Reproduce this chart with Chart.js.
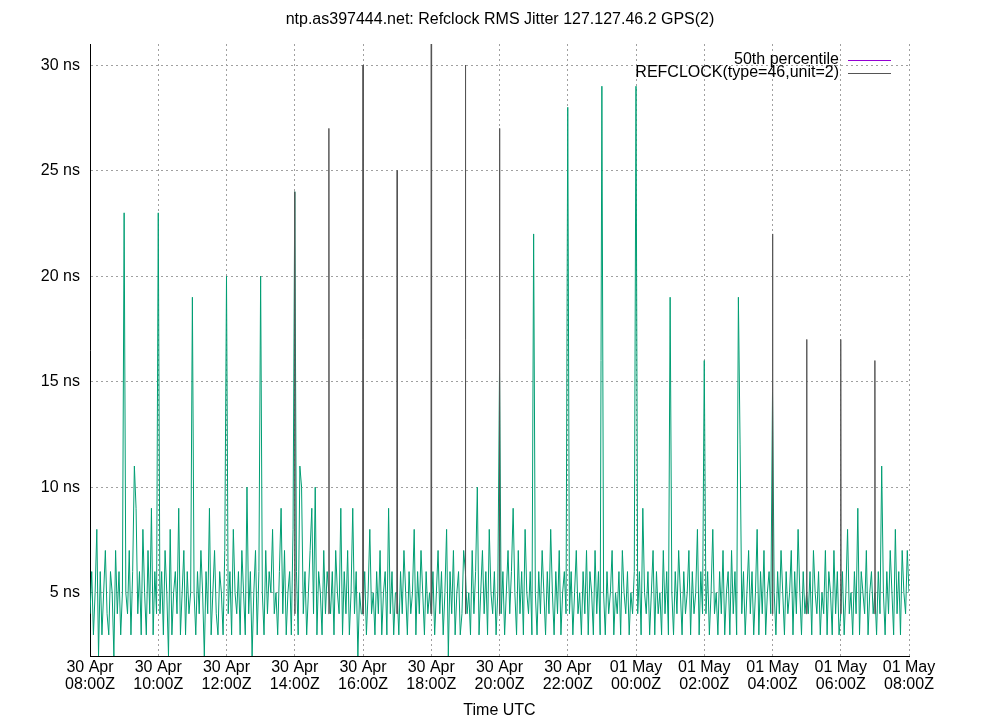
<!DOCTYPE html>
<html><head><meta charset="utf-8">
<script src="https://cdn.jsdelivr.net/npm/chart.js@4"></script>
<style>html,body{margin:0;padding:0;background:#fff}#c{display:block}</style>
</head><body>
<div style="width:1000px;height:720px"><canvas id="c" width="1000" height="720"></canvas></div>
<script>
const TITLE = "ntp.as397444.net: Refclock RMS Jitter 127.127.46.2 GPS(2)";
const X_TITLE = "Time UTC";
const TICK_LABELS = [["30 Apr","08:00Z"],["30 Apr","10:00Z"],["30 Apr","12:00Z"],["30 Apr","14:00Z"],["30 Apr","16:00Z"],["30 Apr","18:00Z"],["30 Apr","20:00Z"],["30 Apr","22:00Z"],["01 May","00:00Z"],["01 May","02:00Z"],["01 May","04:00Z"],["01 May","06:00Z"],["01 May","08:00Z"]];
const SERIES_NAMES = ["50th percentile","REFCLOCK(type=46,unit=2)"];
const START_HOUR = 0, STEP_HOURS = 0.05;
// green jitter samples (ns), one every 3 minutes from 30 Apr 08:00Z
const jitter = [
4,6,3,5,8,2,6,3,5,7,4,3,6,5,2,7,4,6,3,5,
23,5,4,7,3,6,11,9,4,6,3,8,5,3,7,4,9,3,6,4,
23,4,6,3,7,5,2,8,3,5,6,4,9,3,5,7,3,6,4,5,
19,5,3,6,4,7,5,2,6,4,9,3,5,7,4,3,6,5,3,7,
20,4,6,3,8,5,4,6,3,7,5,3,10,4,6,2,5,7,3,6,
20,5,3,7,4,6,5,8,4,5,3,6,9,4,7,3,5,6,3,8,
24,6,3,11,10,4,6,3,5,7,9,4,10,3,6,5,3,7,4,6,
5,4,6,3,7,5,4,9,3,6,4,7,3,5,9,4,6,2,5,4,
4,6,3,5,8,4,5,3,6,4,7,3,5,6,3,9,4,6,3,5,
5,3,6,4,7,5,3,6,4,5,8,3,6,4,7,5,3,6,4,5,
4,6,3,5,7,4,6,3,5,8,2,6,4,7,3,5,6,3,4,7,
6,4,5,3,7,4,6,10,3,5,7,4,6,3,8,5,4,6,3,5,
15.5,4,6,3,5,7,4,6,9,5,3,7,4,6,3,8,5,4,6,3,
22,5,3,6,4,7,5,3,6,4,8,5,3,6,4,7,3,5,6,4,
28,4,6,3,5,7,4,5,3,6,4,7,3,6,5,3,7,4,6,3,
29,5,3,6,4,5,7,3,5,4,6,3,7,5,4,6,3,5,4,6,
29,4,6,3,9,5,4,6,3,5,7,3,6,4,5,3,7,4,6,3,
19,5,3,6,4,7,5,3,6,4,5,7,3,6,4,5,8,3,6,4,
16,4,6,3,5,8,4,5,3,6,4,7,3,5,6,3,7,4,6,3,
19,12,4,6,3,5,7,4,6,3,5,8,3,6,4,7,3,5,6,4,
14.5,5,3,6,4,7,5,3,6,4,5,7,3,6,4,8,5,3,6,4,
5,4,6,3,7,5,4,6,3,5,4,7,3,6,5,3,7,4,6,3,
4,6,3,5,8,4,5,3,6,4,9,3,6,5,4,7,3,5,6,4,
5,3,6,4,11,5,3,6,4,7,5,3,8,4,6,3,7,5,4,7,
5];
// gray REFCLOCK spikes: hours since start, value (ns)
const spikeHours = [6.0, 7.0, 8.0, 9.0, 10.0, 11.0, 12.0, 20.0, 21.0, 22.0, 23.0];
const spikeValues = [24, 27, 30, 25, 31, 30, 27, 22, 17, 17, 16];
const spikeBase = 4;
const median = [];

const greenPts = jitter.map((v,i)=>({x:START_HOUR+i*STEP_HOURS,y:v}));
const grayPts = [];
spikeHours.forEach((h,i)=>{grayPts.push({x:h-0.01,y:spikeBase},{x:h,y:spikeValues[i]},{x:h+0.01,y:spikeBase},{x:h+0.02,y:null});});

const F='"Liberation Sans", Arial';
const legendPlugin = {id:'lg', afterDraw(ch){
  const c=ch.ctx; c.save(); c.font='16px '+F; c.textAlign='right'; c.textBaseline='middle'; c.fillStyle='#000';
  const cols=['#9400d3','#555555'];
  SERIES_NAMES.forEach((n,i)=>{const y=60+i*13; c.fillText(n,839,y); c.strokeStyle=cols[i]; c.lineWidth=1; c.beginPath(); c.moveTo(848,y+0.5); c.lineTo(891,y+0.5); c.stroke();});
  c.textAlign='center'; c.fillText(TITLE,500,20);
  c.restore();
}};

new Chart(document.getElementById('c'),{
  type:'line',
  data:{datasets:[
    {label:SERIES_NAMES[0],data:median,borderColor:'#9400d3',borderWidth:1,pointRadius:0},
    {label:'jitter',data:greenPts,borderColor:'#009e73',borderWidth:1,pointRadius:0,tension:0,order:2},
    {label:SERIES_NAMES[1],data:grayPts,borderColor:'#555555',borderWidth:1,pointRadius:0,tension:0,spanGaps:false,order:1}
  ]},
  plugins:[legendPlugin],
  options:{responsive:false,animation:false,
    layout:{padding:{top:44,right:91,left:0,bottom:0}},
    plugins:{legend:{display:false},title:{display:false},tooltip:{enabled:false}},
    scales:{
      x:{type:'linear',min:0,max:24,
        afterFit(s){s.height=64;},
        afterBuildTicks(s){s.ticks=TICK_LABELS.map((_,i)=>({value:i*2}));},
        ticks:{autoSkip:false,maxRotation:0,color:'#000',font:{family:F,size:16,lineHeight:1.05},padding:3,callback:(v)=>TICK_LABELS[Math.round(v/2)]},
        grid:{color:'#a0a0a0',drawTicks:false},
        border:{color:'#000',dash:[2,3]},
        title:{display:true,text:X_TITLE,color:'#000',font:{family:F,size:16},padding:{top:0,bottom:0}}
      },
      y:{min:2,max:31,
        afterFit(s){s.width=90;},
        afterBuildTicks(s){s.ticks=[5,10,15,20,25,30].map(v=>({value:v}));},
        ticks:{color:'#000',font:{family:F,size:16},padding:10,callback:v=>v+' ns'},
        grid:{color:'#a0a0a0',drawTicks:false},
        border:{color:'#000',dash:[2,3]}
      }
    }
  }
});
</script>
</body></html>
